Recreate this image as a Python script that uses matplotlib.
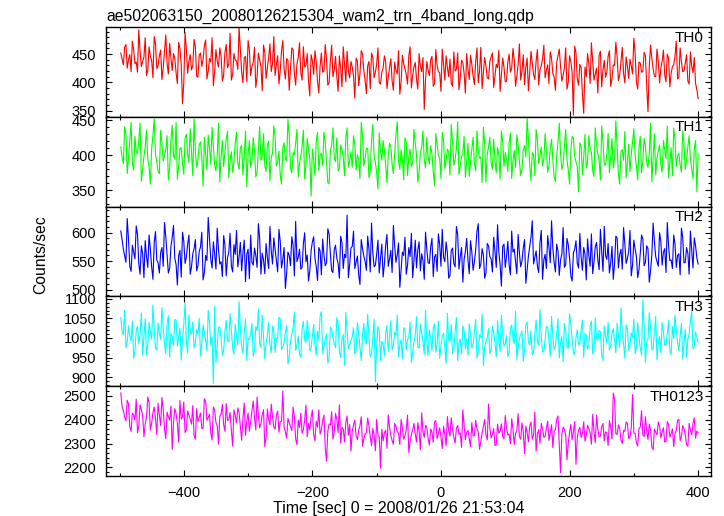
import numpy as np
import matplotlib
matplotlib.use("Agg")
import matplotlib.pyplot as plt
from matplotlib.ticker import MultipleLocator

plt.rcParams['font.family'] = ['Liberation Sans', 'DejaVu Sans']

# light curve bins (sec from 2008/01/26 21:53:04)
# the *_b lists are the bins that fall half way between the main ones
t_start = -498
t_bin = 4

th0 = [452, 431, 467, 440, 419, 458, 436, 493, 428, 445, 412, 463, 439, 481, 424,
       447, 405, 455, 433, 469, 421, 442, 398, 460, 362, 488, 416, 449, 430, 463,
       409, 452, 441, 475, 420, 436, 394, 458, 427, 446, 413, 467, 432, 404, 451,
       438, 497, 418, 443, 401, 457, 429, 462, 410, 440, 385, 453, 425, 468, 433,
       412, 447, 421, 474, 406, 439, 426, 458, 395, 444, 417, 463, 430, 402, 449,
       414, 436, 381, 452, 420, 441, 399, 466, 423, 411, 447, 392, 431, 455, 408,
       427, 372, 438, 415, 450, 403, 429, 389, 444, 418, 461, 397, 425, 436, 409,
       442, 386, 421, 456, 401, 433, 414, 447, 390, 428, 405, 451, 419, 352, 437,
       412, 446, 398, 430, 417, 459, 404, 426, 441, 393, 420, 452, 408, 435, 381,
       423, 448, 411, 437, 399, 462, 418, 429, 406, 445, 391, 432, 457, 414, 427,
       402, 450, 425, 439, 411, 468, 420, 396, 443, 417, 434, 405, 458, 422, 441,
       408, 431, 454, 415, 386, 447, 428, 413, 461, 400, 437, 342, 452, 395, 426,
       345, 410, 433, 470, 404, 425, 448, 392, 439, 418, 456, 407, 430, 445, 413,
       462, 399, 428, 441, 415, 452, 388, 434, 419, 447, 348, 466, 424, 410, 438,
       425, 457, 401, 443, 416, 431, 473, 409, 436, 420, 449, 397, 429, 444, 387]
th0_b = [441, 462, 425, 449, 473, 433, 418, 455, 437, 479, 421, 446, 408, 468, 430,
         457, 426, 484, 415, 443, 451, 417, 471, 432, 399, 459, 438, 422, 476, 411,
         448, 428, 465, 406, 442, 479, 419, 437, 461, 402, 453, 426, 487, 414, 440,
         423, 458, 399, 446, 474, 412, 435, 391, 452, 428, 466, 407, 444, 419, 481,
         431, 397, 455, 424, 442, 386, 461, 415, 433, 470, 404, 427, 451, 376, 438,
         456, 402, 429, 418, 467, 395, 438, 410, 446, 384, 425, 463, 401, 420, 437,
         411, 443, 394, 456, 421, 380, 437, 452, 408, 432, 399, 418, 447, 389, 426,
         403, 436, 415, 379, 448, 424, 397, 463, 412, 435, 388, 429, 444, 405, 421,
         440, 393, 458, 419, 384, 431, 447, 410, 398, 454, 423, 387, 439, 416, 451,
         405, 432, 396, 461, 420, 389, 444, 408, 437, 452, 412, 426, 384, 443, 401,
         436, 418, 460, 393, 431, 404, 449, 427, 385, 455, 414, 438, 395, 429, 466,
         421, 398, 443, 410, 435, 459, 402, 426, 388, 447, 418, 464, 406, 432, 380,
         427, 451, 398, 437, 415, 381, 455, 422, 409, 446, 393, 431, 471, 403, 438,
         416, 445, 407, 429, 478, 401, 436, 418, 453, 394, 428, 442, 411, 459, 399,
         437, 413, 450, 392, 428, 446, 406, 461, 419, 435, 402, 454, 417, 398, 371]

th1 = [412, 388, 431, 396, 447, 379, 405, 421, 363, 398, 436, 384, 409, 452, 391,
       374, 417, 400, 428, 381, 443, 395, 366, 410, 389, 425, 402, 438, 371, 406,
       393, 419, 356, 401, 429, 387, 412, 378, 446, 397, 384, 423, 368, 405, 391,
       433, 380, 414, 399, 355, 421, 392, 407, 376, 441, 398, 385, 416, 364, 403,
       427, 390, 372, 411, 395, 451, 382, 404, 418, 369, 399, 436, 386, 409, 342,
       394, 420, 378, 403, 433, 389, 360, 414, 397, 425, 381, 408, 371, 439, 392,
       383, 416, 401, 367, 428, 395, 410, 377, 444, 390, 352, 405, 421, 386, 399,
       413, 374, 430, 392, 408, 365, 419, 398, 384, 437, 400, 376, 411, 393, 426,
       388, 402, 357, 415, 396, 433, 381, 409, 372, 420, 394, 448, 385, 403, 369,
       417, 391, 426, 378, 406, 398, 440, 362, 412, 389, 423, 375, 401, 435, 384,
       396, 418, 367, 407, 429, 392, 380, 414, 453, 387, 404, 371, 422, 399, 385,
       431, 376, 410, 394, 363, 419, 402, 388, 437, 379, 406, 425, 391, 348, 413,
       397, 382, 428, 405, 370, 416, 393, 442, 386, 401, 375, 424, 396, 411, 359,
       408, 434, 389, 377, 419, 400, 365, 427, 391, 413, 383, 446, 398, 372, 406,
       387, 421, 395, 368, 411, 439, 384, 403, 376, 417, 393, 428, 380, 409, 348]
th1_b = [398, 441, 374, 419, 388, 427, 403, 446, 381, 412, 395, 359, 428, 401, 377,
         436, 392, 408, 365, 423, 399, 447, 384, 411, 373, 430, 390, 404, 452, 383,
         415, 397, 426, 379, 409, 440, 386, 399, 362, 421, 405, 434, 392, 376, 418,
         389, 411, 372, 435, 401, 383, 425, 369, 408, 393, 431, 377, 420, 397, 442,
         385, 406, 359, 418, 392, 428, 375, 401, 437, 388, 413, 366, 424, 396, 409,
         371, 433, 400, 386, 419, 361, 407, 439, 391, 378, 415, 397, 426, 383, 405,
         428, 379, 394, 447, 385, 410, 368, 421, 399, 375, 432, 393, 407, 361, 417,
         387, 403, 448, 380, 395, 425, 371, 409, 390, 419, 362, 404, 435, 382, 398,
         414, 376, 431, 400, 367, 421, 393, 405, 444, 386, 410, 373, 398, 427, 391,
         370, 408, 389, 435, 396, 361, 417, 402, 426, 380, 393, 411, 366, 420, 404,
         377, 432, 392, 383, 415, 371, 408, 398, 424, 364, 401, 437, 388, 412, 395,
         407, 385, 423, 369, 400, 446, 380, 413, 394, 359, 427, 399, 384, 418, 372,
         430, 391, 409, 378, 439, 402, 365, 420, 387, 431, 398, 382, 449, 374, 406,
         393, 368, 416, 401, 438, 384, 410, 375, 424, 389, 403, 362, 431, 397, 415,
         376, 408, 442, 390, 371, 423, 399, 386, 435, 380, 412, 396, 367, 421, 402]

th2 = [603, 571, 548, 589, 532, 566, 612, 545, 577, 521, 558, 596, 540, 583, 552,
       529, 574, 618, 561, 537, 592, 555, 508, 569, 601, 546, 580, 527, 563, 588,
       542, 575, 517, 560, 627, 553, 584, 536, 570, 549, 595, 524, 566, 541, 579,
       604, 558, 533, 587, 562, 519, 548, 573, 539, 590, 564, 528, 556, 611, 545,
       571, 531, 585, 553, 502, 566, 542, 578, 620, 557, 536, 581, 549, 515, 568,
       593, 540, 574, 526, 561, 547, 598, 533, 570, 555, 520, 583, 562, 631, 544,
       576, 537, 559, 509, 572, 550, 594, 531, 565, 543, 587, 556, 522, 578, 541,
       569, 613, 548, 582, 535, 560, 527, 574, 599, 551, 538, 584, 563, 518, 571,
       546, 590, 557, 532, 579, 606, 549, 564, 525, 573, 540, 597, 558, 513, 567,
       552, 586, 534, 570, 616, 545, 561, 529, 577, 554, 592, 539, 566, 506, 580,
       559, 543, 603, 571, 528, 564, 550, 588, 536, 575, 621, 557, 541, 582, 518,
       562, 595, 547, 573, 531, 568, 552, 609, 544, 579, 524, 565, 586, 538, 557,
       574, 517, 560, 598, 549, 583, 535, 567, 611, 553, 529, 576, 545, 591, 562,
       536, 580, 555, 604, 543, 571, 521, 564, 589, 548, 572, 533, 617, 558, 541,
       585, 566, 530, 577, 552, 596, 539, 563, 608, 547, 574, 527, 569, 591, 556]
th2_b = [588, 559, 625, 541, 578, 554, 597, 527, 563, 586, 539, 571, 518, 602, 547,
         565, 541, 593, 529, 576, 613, 544, 560, 522, 585, 557, 596, 540, 572, 533,
         567, 601, 530, 551, 589, 538, 563, 608, 545, 523, 578, 556, 599, 531, 562,
         540, 583, 566, 514, 571, 596, 543, 560, 616, 527, 552, 581, 537, 568, 591,
         550, 606, 538, 574, 529, 560, 593, 524, 549, 571, 539, 600, 561, 533, 584,
         555, 516, 568, 589, 542, 607, 563, 530, 578, 546, 594, 537, 556, 521, 573,
         603, 548, 526, 588, 559, 534, 571, 617, 540, 562, 529, 580, 545, 597, 554,
         530, 577, 561, 504, 566, 592, 543, 558, 521, 587, 570, 533, 551, 601, 547,
         575, 523, 562, 598, 541, 557, 584, 520, 569, 546, 611, 536, 574, 553, 590,
         528, 566, 549, 603, 537, 572, 520, 581, 558, 531, 567, 614, 544, 576, 539,
         585, 526, 566, 549, 597, 540, 573, 511, 559, 592, 545, 568, 530, 604, 552,
         537, 574, 621, 548, 580, 525, 562, 539, 590, 556, 515, 571, 546, 599, 534,
         563, 589, 541, 528, 575, 552, 606, 532, 560, 581, 547, 518, 594, 538, 571,
         609, 546, 567, 524, 587, 558, 535, 596, 542, 577, 513, 561, 584, 549, 600,
         543, 572, 618, 551, 537, 580, 560, 526, 592, 548, 564, 603, 538, 577, 545]

th3 = [1052, 1008, 976, 1031, 992, 948, 1019, 985, 1064, 1002, 957, 1040, 997, 1023, 969,
       1011, 1078, 984, 1036, 951, 1003, 1047, 979, 1026, 995, 1089, 962, 1017, 1041, 987,
       1009, 954, 1033, 996, 1070, 981, 884, 938, 1028, 1000, 967, 1045, 990, 1021, 958,
       1004, 1093, 975, 1012, 943, 996, 1037, 970, 1019, 985, 1058, 947, 1006, 981, 1030,
       963, 999, 1049, 977, 1015, 934, 992, 1026, 968, 1005, 951, 1042, 988, 1011, 972,
       1035, 957, 994, 1067, 979, 1010, 946, 1021, 986, 1052, 964, 998, 930, 1017, 982,
       1003, 959, 1039, 975, 1008, 991, 1060, 953, 1000, 889, 1029, 943, 986, 1013, 966,
       1044, 981, 1007, 952, 995, 1026, 969, 1002, 937, 989, 1054, 974, 1011, 958, 993,
       1020, 967, 1036, 984, 948, 1005, 976, 1063, 990, 961, 1015, 942, 997, 1031, 972,
       956, 1009, 983, 1047, 966, 1001, 929, 988, 1024, 970, 1013, 951, 994, 1058, 979,
       1006, 962, 1033, 985, 945, 999, 1018, 968, 1041, 982, 957, 1010, 991, 1072, 964,
       996, 1027, 953, 1004, 978, 1049, 989, 940, 1015, 973, 1036, 961, 1000, 984, 1022,
       950, 1007, 980, 1043, 967, 998, 1019, 955, 1031, 986, 969, 1012, 993, 1038, 976,
       1008, 948, 1025, 983, 1002, 960, 1039, 975, 1098, 937, 997, 1028, 971, 1055, 990,
       963, 1016, 982, 1044, 958, 999, 1021, 966, 1037, 987, 951, 1010, 1068, 979, 1003]
th3_b = [1018, 1071, 989, 1005, 1043, 965, 1030, 1010, 957, 1049, 983, 1015, 1084, 973, 1038,
         996, 1025, 960, 1057, 1012, 981, 1046, 1001, 944, 1034, 990, 1059, 1009, 975, 1022,
         1050, 988, 1014, 966, 1039, 1003, 1081, 979, 1027, 956, 1016, 993, 1062, 973, 1035,
         982, 1025, 961, 1048, 999, 1013, 953, 1029, 1074, 976, 1004, 988, 1040, 962, 1018,
         1000, 1053, 971, 987, 1032, 948, 1011, 1066, 982, 958, 1024, 995, 1044, 967, 1006,
         983, 1017, 1056, 961, 998, 936, 1028, 1001, 975, 1039, 950, 1009, 1065, 972, 993,
         1026, 968, 1012, 942, 1037, 985, 1003, 959, 1048, 979, 1020, 991, 954, 1032, 1001,
         970, 1015, 1058, 983, 946, 1023, 996, 1041, 962, 1008, 976, 1035, 992, 1071, 955,
         1001, 1027, 964, 1043, 980, 1012, 935, 994, 1034, 971, 1052, 987, 959, 1019, 998,
         1036, 975, 1016, 949, 1007, 1061, 978, 1002, 960, 1030, 989, 1044, 966, 1010, 985,
         953, 1025, 997, 1068, 974, 1008, 941, 1033, 990, 1018, 962, 1046, 981, 1004, 967,
         1029, 992, 1055, 970, 1014, 949, 1003, 1037, 976, 1062, 998, 958, 1021, 985, 1045,
         1011, 972, 1030, 959, 1051, 994, 1016, 943, 1006, 1040, 980, 1024, 962, 1009, 1077,
         985, 1033, 968, 1012, 1048, 977, 1001, 956, 1026, 991, 1064, 970, 1017, 944, 1003,
         1039, 981, 1010, 965, 1029, 1058, 990, 1006, 947, 1022, 996, 1043, 973, 1015, 988]

th0123 = [2512, 2438, 2395, 2467, 2351, 2420, 2486, 2372, 2443, 2328, 2409, 2471, 2384, 2452, 2337,
          2419, 2493, 2362, 2431, 2398, 2275, 2446, 2385, 2480, 2412, 2346, 2437, 2402, 2459, 2318,
          2391, 2428, 2365, 2476, 2410, 2343, 2453, 2388, 2297, 2424, 2379, 2467, 2400, 2355, 2441,
          2386, 2429, 2314, 2470, 2394, 2352, 2438, 2407, 2495, 2366, 2419, 2288, 2445, 2378, 2413,
          2360, 2436, 2391, 2519, 2348, 2405, 2372, 2452, 2320, 2398, 2427, 2359, 2461, 2384, 2410,
          2337, 2394, 2441, 2356, 2419, 2226, 2382, 2433, 2350, 2401, 2462, 2368, 2307, 2415, 2379,
          2352, 2398, 2316, 2374, 2289, 2341, 2407, 2328, 2363, 2270, 2335, 2196, 2311, 2356, 2420,
          2334, 2297, 2372, 2343, 2401, 2318, 2359, 2262, 2337, 2384, 2306, 2351, 2428, 2325, 2368,
          2293, 2347, 2390, 2320, 2366, 2279, 2338, 2413, 2331, 2360, 2302, 2376, 2345, 2441, 2316,
          2355, 2287, 2332, 2397, 2349, 2310, 2371, 2336, 2465, 2324, 2362, 2295, 2343, 2382, 2319,
          2367, 2340, 2404, 2296, 2353, 2329, 2386, 2258, 2346, 2373, 2318, 2432, 2339, 2301, 2361,
          2327, 2394, 2344, 2283, 2358, 2415, 2178, 2369, 2337, 2301, 2380, 2348, 2213, 2356, 2325,
          2391, 2334, 2362, 2297, 2350, 2419, 2328, 2372, 2311, 2345, 2396, 2319, 2487, 2338, 2364,
          2300, 2351, 2383, 2326, 2505, 2342, 2290, 2369, 2335, 2412, 2317, 2358, 2274, 2347, 2390,
          2323, 2366, 2309, 2378, 2341, 2287, 2355, 2401, 2330, 2362, 2296, 2384, 2337, 2408, 2352]
th0123_b = [2456, 2410, 2481, 2369, 2427, 2398, 2344, 2462, 2417, 2382, 2495, 2356, 2430, 2405, 2468,
            2375, 2441, 2320, 2412, 2457, 2388, 2426, 2306, 2403, 2474, 2359, 2418, 2381, 2333, 2446,
            2409, 2362, 2488, 2397, 2422, 2315, 2440, 2375, 2413, 2463, 2351, 2396, 2430, 2289, 2418,
            2449, 2373, 2406, 2335, 2428, 2390, 2478, 2357, 2414, 2383, 2442, 2325, 2401, 2465, 2370,
            2418, 2347, 2393, 2370, 2322, 2386, 2354, 2411, 2295, 2366, 2343, 2398, 2328, 2357, 2440,
            2312, 2369, 2340, 2395, 2283, 2351, 2377, 2318, 2426, 2346, 2302, 2361, 2389, 2335, 2268,
            2378, 2331, 2355, 2412, 2319, 2346, 2373, 2291, 2338, 2401, 2327, 2360, 2345, 2280, 2369,
            2313, 2384, 2350, 2296, 2365, 2332, 2419, 2309, 2357, 2340, 2388, 2274, 2349, 2376, 2322,
            2361, 2305, 2396, 2343, 2328, 2372, 2290, 2354, 2408, 2326, 2363, 2339, 2284, 2375, 2347,
            2320, 2388, 2333, 2359, 2276, 2344, 2401, 2315, 2366, 2338, 2292, 2381, 2352, 2329, 2417,
            2335, 2299, 2362, 2342, 2425, 2318, 2351, 2373, 2307, 2390, 2336, 2268, 2358, 2384, 2326,
            2365, 2313, 2379, 2352, 2401, 2294, 2339, 2361, 2232, 2347, 2316, 2392, 2324, 2368, 2341,
            2310, 2376, 2345, 2422, 2303, 2358, 2331, 2384, 2349, 2292, 2369, 2511, 2340, 2378, 2315,
            2355, 2391, 2321, 2367, 2344, 2302, 2363, 2437, 2329, 2352, 2381, 2285, 2360, 2336, 2373,
            2349, 2306, 2392, 2327, 2361, 2343, 2397, 2312, 2375, 2334, 2288, 2356, 2383, 2322, 2345]

names = ['TH0', 'TH1', 'TH2', 'TH3', 'TH0123']
series = [(th0, th0_b), (th1, th1_b), (th2, th2_b), (th3, th3_b), (th0123, th0123_b)]
colors = ['#ff0000', '#00ff00', '#0000ff', '#00ffff', '#ff00ff']
ylims = [(339, 498), (327, 455), (488, 646), (877, 1106), (2164, 2540)]
ymajor = [50, 50, 50, 50, 100]


def merge(a, b):
    # put the half-bin values in between the main bins
    n = min(len(a), len(b))
    v = np.empty(2 * n)
    v[0::2] = a[:n]
    v[1::2] = b[:n]
    t = t_start + (t_bin / 2.0) * np.arange(2 * n)
    return t, v


W, H = 724, 516
fig = plt.figure(figsize=(W / 100, H / 100), dpi=100)

left, right = 106, 711
top, bottom = 27, 476
ph = (bottom - top) / 5.0

for i in range(5):
    y0 = top + i * ph
    ax = fig.add_axes([left / W, 1 - (y0 + ph) / H, (right - left) / W, ph / H])
    t, vals = merge(*series[i])
    ax.plot(t, vals, color=colors[i], lw=0.8)
    ax.set_xlim(-521, 420)
    ax.set_ylim(*ylims[i])
    ax.xaxis.set_major_locator(MultipleLocator(200))
    ax.xaxis.set_minor_locator(MultipleLocator(100))
    ax.yaxis.set_major_locator(MultipleLocator(ymajor[i]))
    ax.yaxis.set_minor_locator(MultipleLocator(ymajor[i] / 5))
    ax.tick_params(which='both', direction='in', top=True, right=True,
                   labelsize=10.5, pad=7, width=0.8)
    ax.tick_params(which='major', length=4)
    ax.tick_params(which='minor', length=2.2)
    for s in ax.spines.values():
        s.set_linewidth(1.0)
    if i < 4:
        ax.tick_params(labelbottom=False)
    ax.text(0.988, 0.96, names[i], transform=ax.transAxes, ha='right', va='top',
            fontsize=11)

fig.text(left / W, 1 - 20.5 / H, 'ae502063150_20080126215304_wam2_trn_4band_long.qdp',
         ha='left', va='baseline', fontsize=11.3)
fig.text(40.5 / W, 1 - 255 / H, 'Counts/sec', rotation=90, ha='center', va='center',
         fontsize=11.3)
fig.text(399 / W, 1 - 509 / H, 'Time [sec] 0 = 2008/01/26 21:53:04', ha='center',
         va='center', fontsize=11.5)

fig.savefig('out.png', dpi=100)
